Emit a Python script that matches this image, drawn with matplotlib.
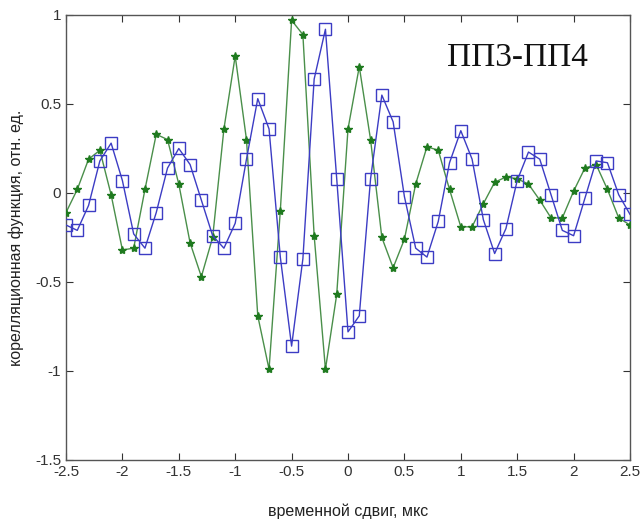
import numpy as np
import matplotlib
matplotlib.use("Agg")
import matplotlib.pyplot as plt

shift = np.round(np.arange(-2.5, 2.51, 0.1), 2)

green_vals = [-0.11, 0.02, 0.19, 0.24, -0.01, -0.32, -0.31, 0.02, 0.33, 0.30,
              0.05, -0.28, -0.47, -0.25, 0.36, 0.77, 0.30, -0.69, -0.99, -0.10,
              0.97, 0.89, -0.24, -0.99, -0.57, 0.36, 0.71, 0.30, -0.25, -0.42,
              -0.26, 0.05, 0.26, 0.24, 0.02, -0.19, -0.19, -0.06, 0.06, 0.09,
              0.08, 0.05, -0.04, -0.14, -0.14, 0.01, 0.14, 0.16, 0.02, -0.14,
              -0.18]

blue_vals = [-0.18, -0.21, -0.07, 0.18, 0.28, 0.07, -0.23, -0.31, -0.11, 0.14,
             0.25, 0.16, -0.04, -0.24, -0.31, -0.17, 0.19, 0.53, 0.36, -0.36,
             -0.86, -0.37, 0.64, 0.92, 0.08, -0.78, -0.69, 0.08, 0.55, 0.40,
             -0.02, -0.31, -0.36, -0.16, 0.17, 0.35, 0.19, -0.15, -0.34, -0.20,
             0.07, 0.23, 0.19, -0.01, -0.21, -0.24, -0.03, 0.18, 0.17, -0.01,
             -0.12]

xticks = [-2.5, -2, -1.5, -1, -0.5, 0, 0.5, 1, 1.5, 2, 2.5]
xticklabels = ["-2.5", "-2", "-1.5", "-1", "-0.5", "0", "0.5", "1", "1.5", "2", "2.5"]
yticks = [-1.5, -1, -0.5, 0, 0.5, 1]
yticklabels = ["-1.5", "-1", "-0.5", "0", "0.5", "1"]

plt.rcParams['font.family'] = ['Liberation Sans', 'DejaVu Sans']

fig = plt.figure(figsize=(6.44, 5.24), dpi=100)
ax = fig.add_axes([66/644, 1-460/524, (630-66)/644, (460-15)/524])

ax.plot(shift, green_vals, color='#4a8f4a', lw=1.0, marker='*', ms=6,
        mfc='#1f7a1f', mec='#1f7a1f', zorder=3)
ax.plot(shift, blue_vals, color='#3c3cc4', lw=1.0, marker='s', ms=8.5,
        mfc='none', mec='#3c3cc4', mew=1.0, zorder=4)

ax.set_xlim(-2.5, 2.5)
ax.set_ylim(-1.5, 1)
ax.set_xticks(xticks)
ax.set_xticklabels(xticklabels)
ax.set_yticks(yticks)
ax.set_yticklabels(yticklabels)
ax.tick_params(direction='in', top=True, right=True, length=5, width=0.8,
               labelsize=11, colors='#333333')
for s in ax.spines.values():
    s.set_color('#555555')
    s.set_linewidth(1.0)

ax.text(1.5, 0.76, "ПП3-ПП4", fontsize=24, family=['Liberation Serif', 'DejaVu Serif'],
        ha='center', va='center', color='#111111')

ax.set_xlabel("временной сдвиг, мкс", fontsize=11.5, labelpad=18, color='#222222')
ax.set_ylabel("корелляционная функция, отн. ед.", fontsize=11.5, labelpad=8, color='#222222')

fig.savefig("out.png", dpi=100, facecolor='white')
